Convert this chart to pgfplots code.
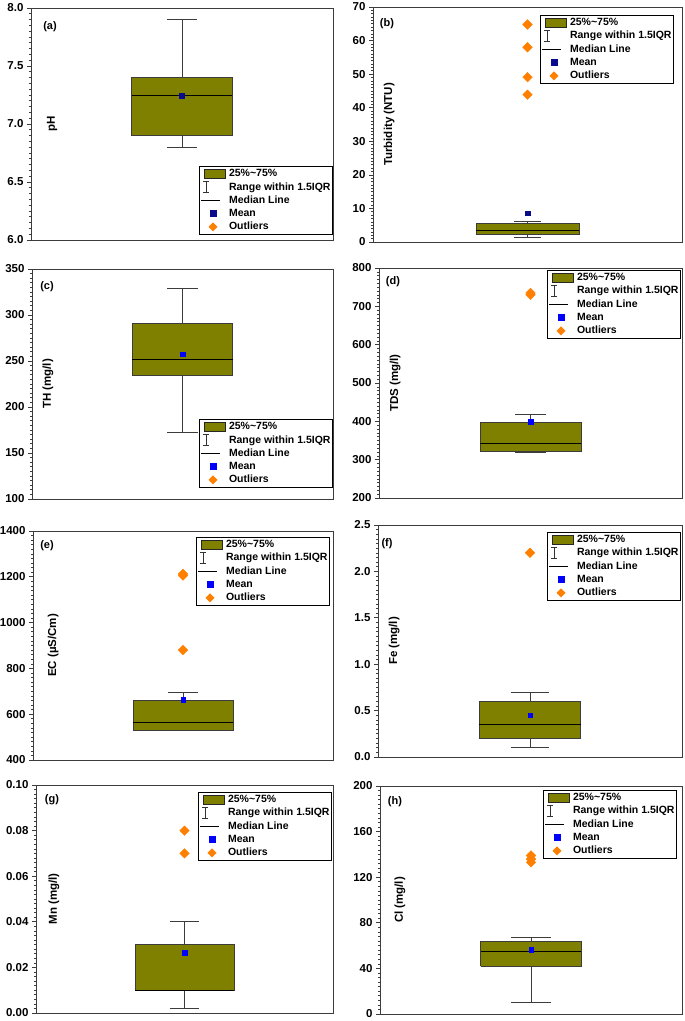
\documentclass[border=0pt]{standalone}
\usepackage{fontspec}
\setmainfont{Liberation Sans}
\usepackage{pgfplots}
\pgfplotsset{compat=1.18}

\definecolor{olivebox}{RGB}{128,128,0}
\definecolor{outorange}{RGB}{255,128,0}
\definecolor{meannavy}{RGB}{10,10,140}
\definecolor{meanblue}{RGB}{0,0,255}
\definecolor{framegray}{RGB}{60,60,60}

% legend shared by all eight panels, #1 = colour of the mean square
\newcommand{\boxlegend}[1]{%
  \addlegendimage{legend image code/.code={%
      \path[draw=none, fill=none] (-3pt,-5.5pt) rectangle (24pt,5.5pt);
      \draw[fill=olivebox, draw=black!85, line width=0.8pt] (0pt,-4.5pt) rectangle (21pt,4.5pt);}}
  \addlegendentry{25\%\textasciitilde75\%}
  \addlegendimage{legend image code/.code={%
      \path[draw=none, fill=none] (-3pt,-5.5pt) rectangle (24pt,5.5pt);
      \draw[black!80, fill=none, line width=0.8pt] (2pt,-5.5pt) -- (2pt,5.5pt)
        (-1pt,-5.5pt) -- (5pt,-5.5pt) (-1pt,5.5pt) -- (5pt,5.5pt);}}
  \addlegendentry{Range within 1.5IQR}
  \addlegendimage{legend image code/.code={%
      \path[draw=none, fill=none] (-3pt,-5.5pt) rectangle (24pt,5.5pt);
      \draw[black, fill=none, line width=0.8pt] (-3pt,0pt) -- (16pt,0pt);}}
  \addlegendentry{Median Line}
  \addlegendimage{legend image code/.code={%
      \path[draw=none, fill=none] (-3pt,-5.5pt) rectangle (24pt,5.5pt);
      \fill[#1, draw=none] (5.5pt,-3.5pt) rectangle (12.5pt,3.5pt);}}
  \addlegendentry{Mean}
  \addlegendimage{legend image code/.code={%
      \path[draw=none, fill=none] (-3pt,-5.5pt) rectangle (24pt,5.5pt);
      \fill[outorange, draw=none] (9pt,-4.5pt) -- (13.5pt,0pt) -- (9pt,4.5pt) -- (4.5pt,0pt) -- cycle;}}
  \addlegendentry{Outliers}
}

\tikzset{tag/.style={font=\fontsize{11}{13}\selectfont\bfseries, anchor=center}}

\pgfplotsset{
  panel/.style={
    scale only axis, anchor=south west, clip=false,
    xmin=0, xmax=3, xtick=\empty,
    ytick pos=left, tick align=outside,
    minor y tick num=9,
    major tick length=4pt, minor tick length=2pt,
    axis line style={framegray, line width=0.9pt},
    every tick/.style={framegray, line width=0.6pt},
    tick label style={font=\fontsize{11.5}{13}\selectfont\bfseries},
    /pgf/number format/assume math mode=true,
    /pgf/number format/1000 sep={},
    scaled y ticks=false,
    every axis y label/.style={at={(axis description cs:0.06,0.5)}, rotate=90,
      anchor=center, font=\fontsize{11.5}{13}\selectfont\bfseries},
    legend style={font=\fontsize{10.5}{12}\selectfont\bfseries, draw=black,
      line width=0.9pt, inner xsep=1pt, inner ysep=1pt,
      /tikz/row sep=0pt, /tikz/column sep=0pt,
      nodes={inner xsep=1pt, inner ysep=1.7pt, text height=7.6pt, text depth=2.2pt}},
    legend cell align=left,
  },
  whisk/.style={forget plot, mark=none, draw=framegray, line width=0.9pt},
  boxfill/.style={forget plot, mark=none, draw=framegray, fill=olivebox,
    line width=0.9pt, line join=miter},
  med/.style={forget plot, mark=none, draw=black, line width=0.9pt},
  mean/.style={forget plot, only marks, mark=square*, mark size=2.3pt},
  outl/.style={forget plot, only marks, mark=square*, mark size=3.4pt,
    mark options={rotate=45}, color=outorange},
}

\begin{document}
\begin{tikzpicture}
\useasboundingbox (0,0) rectangle (685pt,1021pt);

% (a) pH
\begin{axis}[panel, at={(31pt,781pt)}, width=302pt, height=232pt,
  ymin=6, ymax=8, ytick={6,6.5,7,7.5,8},
  yticklabel style={/pgf/number format/fixed, /pgf/number format/fixed zerofill,
    /pgf/number format/precision=1},
  ylabel={pH}, ylabel style={at={(axis description cs:0.07,0.5)}},
  legend style={at={(1,0)}, anchor=south east, yshift=5pt}]
\addplot[whisk] coordinates {(1.5,7.4) (1.5,7.9)};
\addplot[whisk] coordinates {(1.35,7.9) (1.65,7.9)};
\addplot[whisk] coordinates {(1.5,6.9) (1.5,6.8)};
\addplot[whisk] coordinates {(1.35,6.8) (1.65,6.8)};
\addplot[boxfill] coordinates {(1,6.9) (2,6.9) (2,7.4) (1,7.4) (1,6.9)};
\addplot[med] coordinates {(1,7.25) (2,7.25)};
\addplot[mean, color=meannavy] coordinates {(1.5,7.245)};
\boxlegend{meannavy}
\node[tag, xshift=19pt, yshift=-19pt] at (rel axis cs:0,1) {(a)};
\end{axis}

% (b) Turbidity
\begin{axis}[panel, at={(373pt,779pt)}, width=309pt, height=235pt,
  ymin=0, ymax=70, ytick={0,10,...,70},
  ylabel={Turbidity (NTU)}, ylabel style={at={(axis description cs:0.052,0.5)}},
  legend style={at={(1,1)}, anchor=north east, xshift=-8pt, yshift=-8pt}]
\addplot[whisk] coordinates {(1.5,5.5) (1.5,6.2)};
\addplot[whisk] coordinates {(1.365,6.2) (1.635,6.2)};
\addplot[whisk] coordinates {(1.5,2.1) (1.5,1.4)};
\addplot[whisk] coordinates {(1.365,1.4) (1.635,1.4)};
\addplot[boxfill] coordinates {(1,2.1) (2,2.1) (2,5.5) (1,5.5) (1,2.1)};
\addplot[med] coordinates {(1,3.4) (2,3.4)};
\addplot[mean, color=meannavy] coordinates {(1.5,8.6)};
\addplot[outl] coordinates {(1.5,43.9) (1.5,49.1) (1.5,58.0) (1.5,64.8)};
\boxlegend{meannavy}
\node[tag, xshift=14pt, yshift=-17pt] at (rel axis cs:0,1) {(b)};
\end{axis}

% (c) TH
\begin{axis}[panel, at={(32pt,522pt)}, width=301pt, height=230pt,
  ymin=100, ymax=350, ytick={100,150,...,350},
  ylabel={TH (mg/l)}, ylabel style={at={(axis description cs:0.053,0.5)}},
  legend style={at={(1,0)}, anchor=south east, yshift=11pt}]
\addplot[whisk] coordinates {(1.5,291) (1.5,329)};
\addplot[whisk] coordinates {(1.35,329) (1.65,329)};
\addplot[whisk] coordinates {(1.5,234) (1.5,172)};
\addplot[whisk] coordinates {(1.35,172) (1.65,172)};
\addplot[boxfill] coordinates {(1,234) (2,234) (2,291) (1,291) (1,234)};
\addplot[med] coordinates {(1,252) (2,252)};
\addplot[mean, color=meanblue] coordinates {(1.5,257.5)};
\boxlegend{meanblue}
\node[tag, xshift=15pt, yshift=-18pt] at (rel axis cs:0,1) {(c)};
\end{axis}

% (d) TDS
\begin{axis}[panel, at={(379pt,523pt)}, width=303pt, height=230pt,
  ymin=200, ymax=800, ytick={200,300,...,800},
  ylabel={TDS (mg/l)}, ylabel style={at={(axis description cs:0.053,0.5)}},
  legend style={at={(1,1)}, anchor=north east, xshift=-1pt, yshift=-2pt}]
\addplot[whisk] coordinates {(1.5,397) (1.5,418)};
\addplot[whisk] coordinates {(1.35,418) (1.65,418)};
\addplot[whisk] coordinates {(1.5,322) (1.5,319)};
\addplot[whisk] coordinates {(1.35,319) (1.65,319)};
\addplot[boxfill] coordinates {(1,322) (2,322) (2,397) (1,397) (1,322)};
\addplot[med] coordinates {(1,341) (2,341)};
\addplot[mean, color=meanblue] coordinates {(1.5,399)};
\addplot[outl] coordinates {(1.5,730) (1.5,735)};
\boxlegend{meanblue}
\node[tag, xshift=14pt, yshift=-14pt] at (rel axis cs:0,1) {(d)};
\end{axis}

% (e) EC
\begin{axis}[panel, at={(33pt,261pt)}, width=300pt, height=229pt,
  ymin=400, ymax=1400, ytick={400,600,...,1400},
  ylabel={EC (µS/Cm)}, ylabel style={at={(axis description cs:0.067,0.5)}},
  legend style={at={(1,1)}, anchor=north east, xshift=-3pt, yshift=-6pt}]
\addplot[whisk] coordinates {(1.5,658) (1.5,694)};
\addplot[whisk] coordinates {(1.35,694) (1.65,694)};
\addplot[whisk] coordinates {(1.5,531) (1.5,528)};
\addplot[whisk] coordinates {(1.35,528) (1.65,528)};
\addplot[boxfill] coordinates {(1,531) (2,531) (2,658) (1,658) (1,531)};
\addplot[med] coordinates {(1,566) (2,566)};
\addplot[mean, color=meanblue] coordinates {(1.5,663)};
\addplot[outl] coordinates {(1.5,880) (1.5,1205) (1.5,1212)};
\boxlegend{meanblue}
\node[tag, xshift=14pt, yshift=-15pt] at (rel axis cs:0,1) {(e)};
\end{axis}

% (f) Fe
\begin{axis}[panel, at={(378pt,264pt)}, width=304pt, height=232pt,
  ymin=0, ymax=2.5, ytick={0,0.5,1,1.5,2,2.5},
  yticklabel style={/pgf/number format/fixed, /pgf/number format/fixed zerofill,
    /pgf/number format/precision=1},
  ylabel={Fe (mg/l)}, ylabel style={at={(axis description cs:0.053,0.5)}},
  legend style={at={(1,1)}, anchor=north east, xshift=-1pt, yshift=-7pt}]
\addplot[whisk] coordinates {(1.5,0.6) (1.5,0.7)};
\addplot[whisk] coordinates {(1.31,0.7) (1.69,0.7)};
\addplot[whisk] coordinates {(1.5,0.2) (1.5,0.1)};
\addplot[whisk] coordinates {(1.31,0.1) (1.69,0.1)};
\addplot[boxfill] coordinates {(1,0.2) (2,0.2) (2,0.6) (1,0.6) (1,0.2)};
\addplot[med] coordinates {(1,0.35) (2,0.35)};
\addplot[mean, color=meanblue] coordinates {(1.5,0.45)};
\addplot[outl] coordinates {(1.5,2.2)};
\boxlegend{meanblue}
\node[tag, xshift=9pt, yshift=-19pt] at (rel axis cs:0,1) {(f)};
\end{axis}

% (g) Mn
\begin{axis}[panel, at={(36pt,8pt)}, width=297pt, height=228pt,
  ymin=0, ymax=0.1, ytick={0,0.02,0.04,0.06,0.08,0.1},
  yticklabel style={/pgf/number format/fixed, /pgf/number format/fixed zerofill,
    /pgf/number format/precision=2},
  ylabel={Mn (mg/l)}, ylabel style={at={(axis description cs:0.06,0.5)}},
  legend style={at={(1,1)}, anchor=north east, xshift=-1pt, yshift=-7pt}]
\addplot[whisk] coordinates {(1.5,0.03) (1.5,0.04)};
\addplot[whisk] coordinates {(1.35,0.04) (1.65,0.04)};
\addplot[whisk] coordinates {(1.5,0.01) (1.5,0.002)};
\addplot[whisk] coordinates {(1.35,0.002) (1.65,0.002)};
\addplot[boxfill] coordinates {(1,0.01) (2,0.01) (2,0.03) (1,0.03) (1,0.01)};
\addplot[med] coordinates {(1,0.01) (2,0.01)};
\addplot[mean, color=meanblue] coordinates {(1.5,0.0265)};
\addplot[outl] coordinates {(1.5,0.07) (1.5,0.08)};
\boxlegend{meanblue}
\node[tag, xshift=16pt, yshift=-15pt] at (rel axis cs:0,1) {(g)};
\end{axis}

% (h) Cl
\begin{axis}[panel, at={(380pt,7pt)}, width=302pt, height=228pt,
  ymin=0, ymax=200, ytick={0,40,...,200},
  ylabel={Cl (mg/l)}, ylabel style={at={(axis description cs:0.066,0.5)}},
  legend style={at={(1,1)}, anchor=north east, xshift=-5pt, yshift=-4pt}]
\addplot[whisk] coordinates {(1.5,63.6) (1.5,66.8)};
\addplot[whisk] coordinates {(1.3,66.8) (1.7,66.8)};
\addplot[whisk] coordinates {(1.5,41.7) (1.5,10.5)};
\addplot[whisk] coordinates {(1.3,10.5) (1.7,10.5)};
\addplot[boxfill] coordinates {(1,41.7) (2,41.7) (2,63.6) (1,63.6) (1,41.7)};
\addplot[med] coordinates {(1,54.8) (2,54.8)};
\addplot[mean, color=meanblue] coordinates {(1.5,56.3)};
\addplot[outl] coordinates {(1.5,133) (1.5,136) (1.5,139)};
\boxlegend{meanblue}
\node[tag, xshift=15pt, yshift=-16pt] at (rel axis cs:0,1) {(h)};
\end{axis}
\end{tikzpicture}
\end{document}
